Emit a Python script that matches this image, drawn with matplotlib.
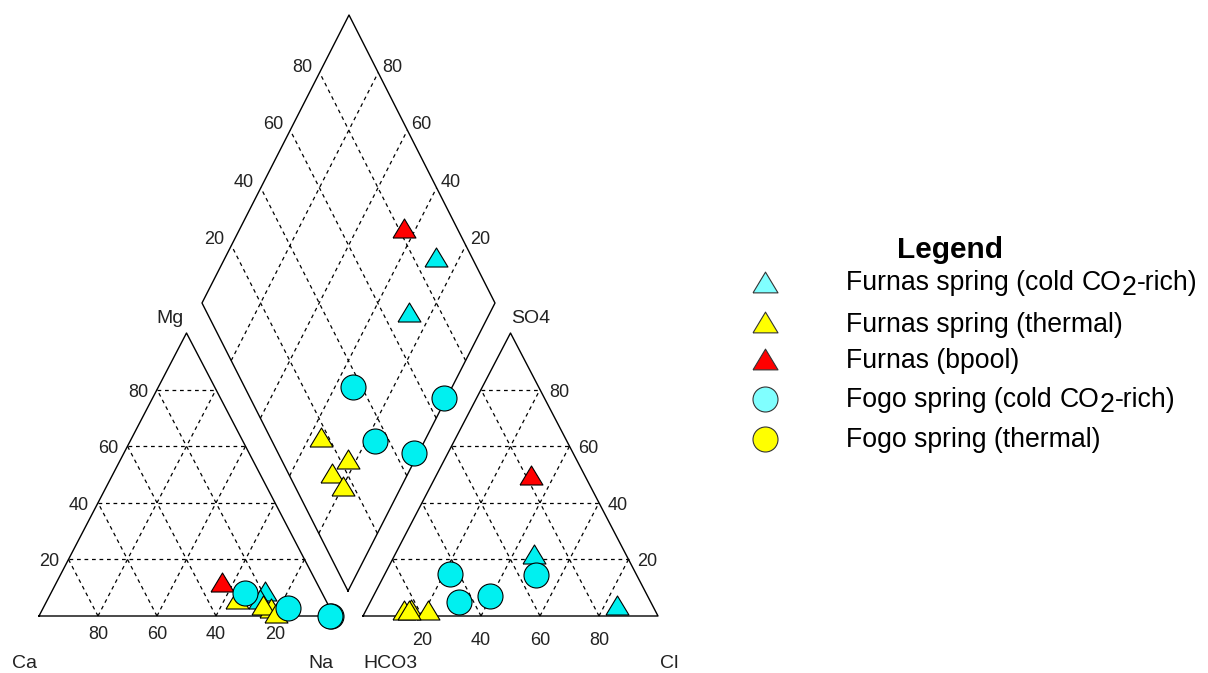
"""
Piper diagram: Furnas / Fogo spring waters (cations, anions, diamond).
Drawn in pixel-like coordinates (y down) so the layout matches the 1208x673 original.
"""
import numpy as np
import matplotlib
matplotlib.use("Agg")
import matplotlib.pyplot as plt

plt.rcParams['font.family'] = ['Liberation Sans', 'DejaVu Sans']

W, H = 1208, 673

# ---- data: one entry per sample (percent of meq) ----------------------------
classes = ['Furnas spring (cold CO2-rich)', 'Furnas spring (thermal)',
           'Furnas (bpool)', 'Fogo spring (cold CO2-rich)', 'Fogo spring (thermal)']
sample_class = [0, 0, 1, 1, 1, 1, 2, 3, 3, 3, 3]
ca   = [19, 22, 30, 20, 22, 19, 32, 26, 14, 1, 1.5]
mg   = [9, 6, 6, 3, 4, 1, 12, 8, 3, 0, 0]
na   = [72, 72, 64, 77, 74, 80, 56, 66, 83, 99, 98.5]
hco3 = [12, 31, 82.5, 77, 85, 83.5, 18, 63, 65, 34, 53.5]
so4  = [4, 22, 2.5, 2, 2, 2, 50, 15, 5, 14.5, 7]
cl   = [84, 47, 15, 21, 13, 14.5, 32, 22, 30, 51.5, 39.5]

grid_vals = [20, 40, 60, 80]

# ---- styles -----------------------------------------------------------------
TRI = [(-1, -0.83), (1, -0.83), (0, 0.83), (-1, -0.83)]
cls_marker = [TRI, TRI, TRI, 'o', 'o']
cls_color = ['#00F0F0', '#FFFF00', '#FF0000', '#00F0F0', '#FFFF00']
cls_legend_color = ['#80FFFF', '#FFFF00', '#FF0000', '#80FFFF', '#FFFF00']
cls_size = [16.5, 16.5, 16.5, 18, 18]
draw_order = [0, 1, 2, 3, 4]

# ---- geometry ---------------------------------------------------------------
CAT = (np.array([39, 616.]), np.array([334, 616.]), np.array([186.5, 333.]))
AN = (np.array([363, 616.]), np.array([658, 616.]), np.array([510.5, 333.]))
DB, DL, DR = np.array([348, 591.]), np.array([202, 303.]), np.array([495, 303.])
DT = DL + DR - DB


def tern(a_left, a_right, a_top, corners):
    L, R, T = corners
    a = np.asarray(a_left, float) / 100
    b = np.asarray(a_right, float) / 100
    c = np.asarray(a_top, float) / 100
    return a * L[0] + b * R[0] + c * T[0], a * L[1] + b * R[1] + c * T[1]


def diam(c, s):
    c = np.asarray(c, float) / 100
    s = np.asarray(s, float) / 100
    return (DB[0] + c * (DL - DB)[0] + s * (DR - DB)[0],
            DB[1] + c * (DL - DB)[1] + s * (DR - DB)[1])


fig = plt.figure(figsize=(W / 100, H / 100), dpi=100)
ax = fig.add_axes([0, 0, 1, 1])
ax.set_axis_off()
ax.set_xlim(0, W)
ax.set_ylim(H, 0)

EDGE = dict(color='black', lw=1.0, zorder=2)
DASH = dict(color='black', lw=0.9, ls=(0, (3, 3)), zorder=1)
TICK = dict(fontsize=13, color='#222222')
NAME = dict(fontsize=14, color='#222222')

# triangles
for corners in (CAT, AN):
    L, R, T = corners
    ax.plot([L[0], R[0], T[0], L[0]], [L[1], R[1], T[1], L[1]], **EDGE)
    for v in grid_vals:
        w = 100 - v
        for p, q in [((w, 0, v), (0, w, v)), ((v, w, 0), (v, 0, w)),
                     ((w, v, 0), (0, v, w))]:
            x, y = tern([p[0], q[0]], [p[1], q[1]], [p[2], q[2]], corners)
            ax.plot(x, y, **DASH)

# diamond
ax.plot([DB[0], DL[0], DT[0], DR[0], DB[0]], [DB[1], DL[1], DT[1], DR[1], DB[1]], **EDGE)
for v in grid_vals:
    x, y = diam([v, v], [0, 100]); ax.plot(x, y, **DASH)
    x, y = diam([0, 100], [v, v]); ax.plot(x, y, **DASH)

# tick labels
for v in grid_vals:
    x, y = tern(v, 100 - v, 0, CAT)
    ax.text(x, 639, str(v), ha='center', va='baseline', **TICK)
    x, y = tern(100 - v, 0, v, CAT)
    ax.text(x - 9, y + 7, str(v), ha='right', va='baseline', **TICK)
    x, y = tern(100 - v, v, 0, AN)
    ax.text(x, 645, str(v), ha='center', va='baseline', **TICK)
    x, y = tern(0, 100 - v, v, AN)
    ax.text(x + 9, y + 7, str(v), ha='left', va='baseline', **TICK)
    x, y = diam(100, v)
    ax.text(x - 7, y - 1, str(v), ha='right', va='baseline', **TICK)
    x, y = diam(v, 100)
    ax.text(x + 4, y - 1, str(v), ha='left', va='baseline', **TICK)

ax.text(184, 323, 'Mg', ha='right', va='baseline', **NAME)
ax.text(511, 323, 'SO4', ha='left', va='baseline', **NAME)
ax.text(12, 668, 'Ca', ha='left', va='baseline', **NAME)
ax.text(308, 668, 'Na', ha='left', va='baseline', **NAME)
ax.text(363, 668, 'HCO3', ha='left', va='baseline', **NAME)
ax.text(660, 668, 'Cl', ha='left', va='baseline', **NAME)

# samples
sc = np.array(sample_class)
C = np.array(ca) + np.array(mg)
S = np.array(so4) + np.array(cl)
xc, yc = tern(ca, na, mg, CAT)
xa, ya = tern(hco3, cl, so4, AN)
xd, yd = diam(C, S)
for z, k in enumerate(draw_order):
    m = sc == k
    if not m.any():
        continue
    for x, y in ((xc, yc), (xa, ya), (xd, yd)):
        ax.plot(x[m], y[m], ls='none', marker=cls_marker[k], ms=cls_size[k],
                mfc=cls_color[k], mec='black', mew=0.8, zorder=5 + z)

# legend
ax.text(950, 258, 'Legend', ha='center', va='baseline', fontsize=21.5,
        fontweight='bold', color='black')
leg_marker_y = [282, 322, 359, 399, 439]
leg_text_y = [290, 332, 368, 407, 447]
renderer = fig.canvas.get_renderer()


def rich_text(x, y, label, size):
    parts = label.split('CO2')
    pieces = []
    for i, part in enumerate(parts):
        if i > 0:
            pieces.append(('CO', 0))
            pieces.append(('2', 5))
        pieces.append((part, 0))
    for s, dy in pieces:
        if not s:
            continue
        t = ax.text(x, y + dy, s, ha='left', va='baseline', fontsize=size,
                    color='black')
        bb = t.get_window_extent(renderer=renderer)
        x = ax.transData.inverted().transform((bb.x1, bb.y0))[0] + 0.5


for k, name in enumerate(classes):
    mk = cls_marker[k]
    ax.plot([765], [leg_marker_y[k]], ls='none', marker=mk,
            ms=18 if mk is TRI else 18, mfc=cls_legend_color[k], mec='#333333', mew=0.8)
    rich_text(846, leg_text_y[k], name, 19.2)

fig.savefig('out.png', dpi=100, facecolor='white')
